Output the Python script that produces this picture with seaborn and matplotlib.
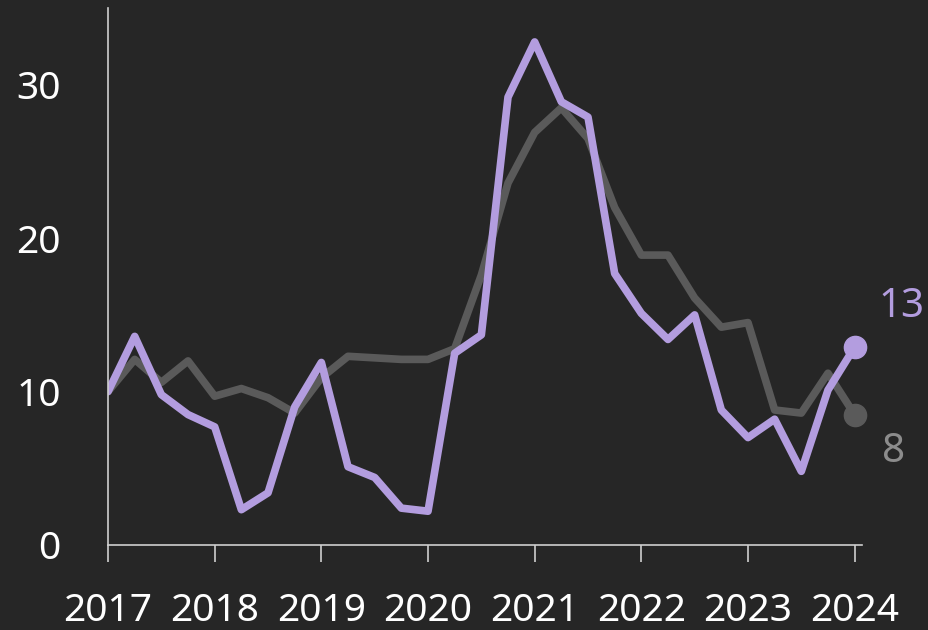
import matplotlib
matplotlib.use("Agg")
import matplotlib.pyplot as plt
import seaborn as sns
import numpy as np
import pandas as pd

# quarterly values, 2017 Q1 .. 2024 Q1
quarters = np.arange(29) / 4 + 2017
purple_vals = [10.0, 13.6, 9.8, 8.5, 7.7, 2.3, 3.4, 9.0, 11.9, 5.1, 4.4, 2.4, 2.2, 12.5, 13.7,
               29.2, 32.8, 28.9, 27.9, 17.7, 15.1, 13.4, 15.0, 8.8, 7.0, 8.2, 4.8, 10.1, 12.9]
gray_vals = [10.0, 12.1, 10.6, 12.0, 9.7, 10.2, 9.6, 8.6, 10.9, 12.3, 12.2, 12.1, 12.1, 12.8, 17.6,
             23.6, 26.9, 28.5, 26.5, 22.0, 18.9, 18.9, 16.1, 14.2, 14.5, 8.8, 8.6, 11.2, 8.5]
year_ticks = [2017, 2018, 2019, 2020, 2021, 2022, 2023, 2024]
y_ticks = [0, 10, 20, 30]

BG = "#262626"
PURPLE = "#b39ddf"
GRAY = "#5a5a5a"
AXIS = "#cfcfcf"

df = pd.concat([
    pd.DataFrame({"year": quarters, "value": gray_vals, "series": "gray"}),
    pd.DataFrame({"year": quarters, "value": purple_vals, "series": "purple"}),
])

sns.set_style("dark", {"axes.facecolor": BG, "figure.facecolor": BG})
plt.rcParams["font.family"] = ["Noto Sans", "DejaVu Sans"]

fig = plt.figure(figsize=(9.29, 6.30), dpi=100)
ax = fig.add_axes([0.1163, 0.135, 0.928 - 0.1163, 0.987 - 0.135])

sns.lineplot(data=df, x="year", y="value", hue="series",
             palette={"gray": GRAY, "purple": PURPLE},
             linewidth=5.5, legend=False, ax=ax)

# end markers + labels
for vals, col, lab_col, off in [(gray_vals, GRAY, "#8c8c8c", (28, -27)),
                                (purple_vals, PURPLE, PURPLE, (34, 29))]:
    ax.plot(quarters[-1], vals[-1], "o", color=col, markersize=16, zorder=5, clip_on=False)
    ax.annotate(f"{vals[-1]:.0f}", (quarters[-1], vals[-1]), xytext=off,
                textcoords="offset points", ha="center", va="center",
                color=lab_col, fontsize=29)

ax.set_xlim(2017, 2024.07)
ax.set_ylim(0, 35)
ax.set_xticks(year_ticks)
ax.set_xticklabels([str(y) for y in year_ticks])
ax.set_yticks(y_ticks)
ax.set_xlabel("")
ax.set_ylabel("")
ax.grid(False)

for side in ["top", "right"]:
    ax.spines[side].set_visible(False)
for side in ["left", "bottom"]:
    ax.spines[side].set_visible(True)
    ax.spines[side].set_color(AXIS)
    ax.spines[side].set_linewidth(1.2)

ax.tick_params(axis="x", bottom=True, colors=AXIS, length=12, width=1.2, direction="out",
               labelsize=28, labelcolor="white", pad=22)
ax.tick_params(axis="y", left=False, length=0, labelsize=28, labelcolor="white", pad=34)

fig.savefig("out.png", dpi=100, facecolor=BG)
